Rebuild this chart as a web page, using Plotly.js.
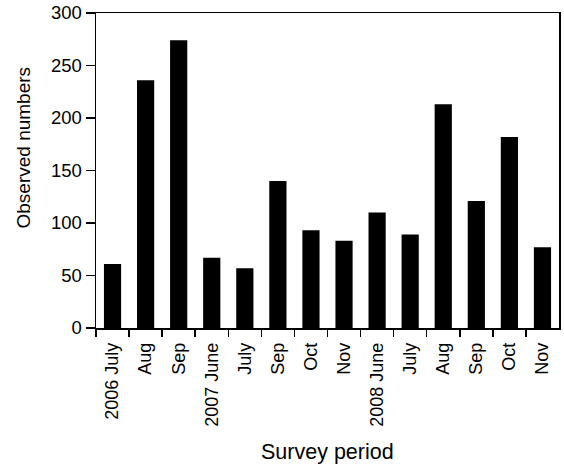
<!DOCTYPE html>
<html>
<head>
<meta charset="utf-8">
<script src="https://cdn.plot.ly/plotly-3.0.1.min.js"></script>
<style>html,body{margin:0;padding:0;background:#fff;}</style>
</head>
<body>
<div id="chart" style="width:564px;height:468px;"></div>
<script>
// Data
const periods = ["2006 July", "Aug", "Sep", "2007 June", "July", "Sep", "Oct", "Nov", "2008 June", "July", "Aug", "Sep", "Oct", "Nov"];
const observed = [61, 236, 274, 67, 57, 140, 93, 83, 110, 89, 213, 121, 182, 77];
const yTicks = [0, 50, 100, 150, 200, 250, 300];

const positions = periods.map((_, i) => i);
const boundaries = periods.map((_, i) => i - 0.5);

const font = "Liberation Sans, Arial, Helvetica, sans-serif";

const trace = {
  type: "bar",
  x: positions,
  y: observed,
  marker: {color: "#000000", line: {width: 0}},
  hoverinfo: "x+y"
};

const layout = {
  width: 564,
  height: 468,
  margin: {l: 96, r: 5, t: 13, b: 140},
  paper_bgcolor: "#ffffff",
  plot_bgcolor: "#ffffff",
  font: {family: font, color: "#000000", size: 18},
  bargap: 0.48,
  showlegend: false,
  xaxis: {
    range: [-0.5, periods.length - 0.5],
    tickmode: "array",
    tickvals: positions,
    ticktext: periods,
    tickangle: -90,
    ticks: "outside",
    ticklen: 6,
    tickcolor: "rgba(0,0,0,0)",
    tickfont: {family: font, size: 18, color: "#000"},
    minor: {tickmode: "array", tickvals: boundaries, ticks: "outside", ticklen: 7, tickwidth: 1.5, tickcolor: "#000", showgrid: false},
    showline: true,
    linecolor: "#000",
    linewidth: 1.5,
    mirror: true,
    showgrid: false,
    zeroline: false,
    fixedrange: true
  },
  yaxis: {
    range: [0, 300],
    tickmode: "array",
    tickvals: yTicks,
    ticks: "outside",
    ticklen: 9,
    tickwidth: 1.5,
    tickcolor: "#000",
    tickfont: {family: font, size: 18.5, color: "#000"},
    showline: true,
    linecolor: "#000",
    linewidth: 1.5,
    mirror: true,
    showgrid: false,
    zeroline: false,
    fixedrange: true
  },
  annotations: [
    {
      text: "Observed numbers",
      xref: "paper", yref: "paper",
      x: (23 - 96) / 463, y: (328 - 147.5) / 315,
      xanchor: "center", yanchor: "middle",
      textangle: -90,
      showarrow: false,
      font: {family: font, size: 19, color: "#000"}
    },
    {
      text: "Survey period",
      xref: "paper", yref: "paper",
      x: 0.5, y: (328 - 452) / 315,
      xanchor: "center", yanchor: "middle",
      showarrow: false,
      font: {family: font, size: 21.5, color: "#000"}
    }
  ]
};

Plotly.newPlot("chart", [trace], layout, {displayModeBar: false, staticPlot: true});
</script>
</body>
</html>
